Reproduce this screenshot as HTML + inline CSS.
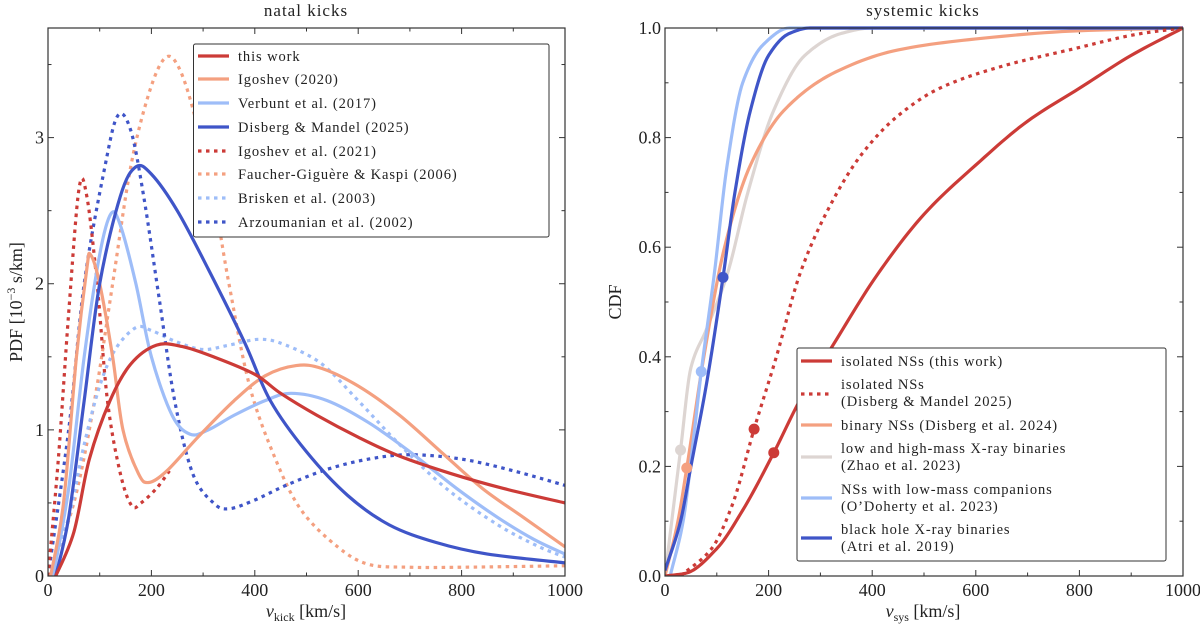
<!DOCTYPE html>
<html><head><meta charset="utf-8"><style>
body{margin:0;background:#fff;}
svg text{font-family:"Liberation Serif","DejaVu Serif",serif;fill:#222;}
</style></head><body>
<svg id="chart" width="1200" height="628" viewBox="0 0 1200 628" xmlns="http://www.w3.org/2000/svg"></svg>
<script>
// ---------- data: left panel (PDF, 1e-3 s/km) ----------
const thisWorkX=[15,50,80,120,160,210,260,320,400,450,520,600,680,780,880,1000];
const thisWorkY=[0,0.3,0.8,1.2,1.45,1.58,1.57,1.5,1.38,1.25,1.1,0.95,0.82,0.7,0.6,0.5];
const igo20X=[5,30,55,75,82,100,125,145,175,195,230,290,360,420,480,530,600,680,760,840,920,1000];
const igo20Y=[0,0.5,1.5,2.1,2.2,2.0,1.5,1.0,0.7,0.64,0.72,0.95,1.2,1.37,1.44,1.42,1.3,1.1,0.85,0.6,0.4,0.2];
const verbX=[10,40,70,100,122,140,170,200,240,275,310,360,420,470,540,620,700,790,870,940,1000];
const verbY=[0,0.6,1.5,2.2,2.48,2.4,2.0,1.5,1.1,0.97,1.0,1.1,1.2,1.25,1.2,1.05,0.85,0.6,0.4,0.25,0.15];
const dm25X=[15,40,70,100,140,170,200,250,310,380,430,500,580,660,750,850,1000];
const dm25Y=[0,0.4,1.2,2.0,2.6,2.8,2.75,2.5,2.1,1.6,1.2,0.85,0.55,0.35,0.23,0.15,0.09];
const igo21X=[0,20,40,60,75,95,115,140,162,180,210,235];
const igo21Y=[0,0.8,1.8,2.65,2.6,2.0,1.2,0.7,0.48,0.5,0.6,0.72];
const fgkX=[0,50,90,125,160,195,225,250,280,320,350,390,440,490,560,620,700,800,1000];
const fgkY=[0,0.5,1.2,2.0,2.8,3.3,3.54,3.5,3.2,2.6,2.0,1.3,0.8,0.45,0.2,0.08,0.06,0.06,0.07];
const brisX=[0,40,70,100,130,170,200,250,300,350,410,460,530,600,680,770,870,950,1000];
const brisY=[0,0.4,0.9,1.3,1.55,1.7,1.68,1.6,1.55,1.58,1.62,1.58,1.45,1.2,0.9,0.6,0.35,0.2,0.13];
const arzX=[0,40,70,110,135,160,185,215,245,280,320,350,400,460,540,620,700,800,900,1000];
const arzY=[0,1.0,2.0,2.8,3.15,3.05,2.6,1.9,1.2,0.7,0.5,0.46,0.52,0.62,0.73,0.8,0.83,0.8,0.72,0.62];
// ---------- data: right panel (CDF) ----------
const isoX=[0,40,100,150,210,260,330,410,500,600,700,800,900,1000];
const isoY=[0,0.005,0.05,0.12,0.225,0.32,0.43,0.55,0.66,0.75,0.83,0.89,0.95,1.0];
const isoDX=[30,90,130,172,215,260,310,380,450,530,650,780,920,1000];
const isoDY=[0,0.05,0.13,0.268,0.4,0.55,0.66,0.77,0.84,0.89,0.93,0.96,0.99,1.0];
const binX=[0,25,42,75,115,165,230,330,450,600,800,1000];
const binY=[0,0.1,0.197,0.4,0.6,0.75,0.85,0.92,0.96,0.98,0.995,1.0];
const xrbX=[0,30,50,80,120,160,210,270,340,400,1000];
const xrbY=[0,0.23,0.38,0.45,0.55,0.7,0.85,0.95,0.99,1.0,1.0];
const odoX=[10,35,55,70,95,120,150,190,240,1000];
const odoY=[0,0.1,0.25,0.373,0.55,0.75,0.9,0.97,1.0,1.0];
const atriX=[0,30,50,80,112,135,165,200,240,280,1000];
const atriY=[0.01,0.1,0.2,0.35,0.545,0.7,0.85,0.95,0.99,1.0,1.0];
const markerX=[210,172,42,30,70,112];
const markerY=[0.225,0.268,0.197,0.23,0.373,0.545];
const leftXTicks=[0,200,400,600,800,1000];
const leftYTicks=[0,1,2,3];
const rightXTicks=[0,200,400,600,800,1000];
const rightYTicks=[0,0.2,0.4,0.6,0.8,1.0];
const rightYLabels=["0.0","0.2","0.4","0.6","0.8","1.0"];

const RED="#cc3b37",SAL="#f4a080",LB="#9ebdf8",BL="#3f55c8",GR="#ddd5d2";
const svg=document.getElementById('chart');
const NS="http://www.w3.org/2000/svg";
function mk(tag,attrs,parent){const e=document.createElementNS(NS,tag);for(const k in attrs)e.setAttribute(k,attrs[k]);(parent||svg).appendChild(e);return e;}

const L={x0:48,x1:565,y0:576,y1:28,ymax:3.75};
const R={x0:665,x1:1183,y0:576,y1:28,ymax:1.0};
const lx=v=>L.x0+(L.x1-L.x0)*v/1000, ly=v=>L.y0-(L.y0-L.y1)*v/L.ymax;
const rx=v=>R.x0+(R.x1-R.x0)*v/1000, ry=v=>R.y0-(R.y0-R.y1)*v/R.ymax;

// Catmull-Rom (smooth peaks) for PDFs
function pathCR(xs,ys,fx,fy){
  const p=xs.map((x,i)=>[fx(x),fy(ys[i])]);
  let d=`M${p[0][0]},${p[0][1]}`;
  for(let i=0;i<p.length-1;i++){
    const a=p[Math.max(0,i-1)],b=p[i],c=p[i+1],e=p[Math.min(p.length-1,i+2)];
    const c1=[b[0]+(c[0]-a[0])/6,b[1]+(c[1]-a[1])/6],c2=[c[0]-(e[0]-b[0])/6,c[1]-(e[1]-b[1])/6];
    d+=` C${c1[0]},${c1[1]} ${c2[0]},${c2[1]} ${c[0]},${c[1]}`;
  }
  return d;
}
// monotone cubic for CDFs
function pathMono(xs,ys,fx,fy){
  const n=xs.length,d=[],m=new Array(n);
  for(let i=0;i<n-1;i++)d.push((ys[i+1]-ys[i])/(xs[i+1]-xs[i]));
  m[0]=d[0];m[n-1]=d[n-2];
  for(let i=1;i<n-1;i++){ if(d[i-1]*d[i]<=0)m[i]=0; else { const h0=xs[i]-xs[i-1],h1=xs[i+1]-xs[i];const w1=2*h1+h0,w2=h1+2*h0;m[i]=(w1+w2)/(w1/d[i-1]+w2/d[i]); } }
  let s=`M${fx(xs[0])},${fy(ys[0])}`;
  for(let i=0;i<n-1;i++){
    const h=xs[i+1]-xs[i];
    for(let k=1;k<=12;k++){
      const t=k/12,t2=t*t,t3=t2*t;
      const y=(2*t3-3*t2+1)*ys[i]+(t3-2*t2+t)*h*m[i]+(-2*t3+3*t2)*ys[i+1]+(t3-t2)*h*m[i+1];
      s+=` L${fx(xs[i]+t*h).toFixed(2)},${fy(y).toFixed(2)}`;
    }
  }
  return s;
}
function series(xs,ys,fx,fy,color,dotted,name,clip,mono){
  const el=mk('path',{d:(mono?pathMono:pathCR)(xs,ys,fx,fy),fill:'none',stroke:color,'stroke-width':3.2,'stroke-linejoin':'round','stroke-dasharray':dotted?'3.5,4.5':'none','clip-path':`url(#${clip})`});
  
  
}
const defs=mk('defs',{});
const c1=mk('clipPath',{id:'cl'},defs);mk('rect',{x:L.x0,y:L.y1,width:L.x1-L.x0,height:L.y0-L.y1},c1);
const c2=mk('clipPath',{id:'cr'},defs);mk('rect',{x:R.x0,y:R.y1-2,width:R.x1-R.x0,height:R.y0-R.y1+2},c2);

function axes(P,fx,fy,xt,yt,ylab,xminor,yminor,prefix){
  const g=mk('g',{});
  
  
  const tk=(x1,y1,x2,y2)=>mk('line',{x1,y1,x2,y2,stroke:'#333','stroke-width':1},g);
  for(let v=0;v<=1000;v+=xminor){const x=fx(v),maj=xt.includes(v);const l=maj?6:3.5;tk(x,P.y0,x,P.y0-l);tk(x,P.y1,x,P.y1+l);}
  for(let v=0;v<=P.ymax+1e-9;v+=yminor){const y=fy(v),maj=yt.some(t=>Math.abs(t-v)<1e-6);const l=maj?6:3.5;tk(P.x0,y,P.x0+l,y);tk(P.x1,y,P.x1-l,y);}
  xt.forEach(v=>{const t=mk('text',{x:fx(v),y:P.y0+20,'font-size':18,'text-anchor':'middle'},g);t.textContent=v;
    });
  yt.forEach((v,i)=>{const t=mk('text',{x:P.x0-4,y:fy(v)+6,'font-size':18,'text-anchor':'end'},g);t.textContent=ylab?ylab[i]:v;
    });
}
function frame(P,name){const r=mk('rect',{x:P.x0,y:P.y1,width:P.x1-P.x0,height:P.y0-P.y1,fill:'none',stroke:'#333','stroke-width':1.2});
  }

axes(L,lx,ly,leftXTicks,leftYTicks,null,100,0.5,'left');
axes(R,rx,ry,rightXTicks,rightYTicks,rightYLabels,100,0.1,'right');

series(fgkX,fgkY,lx,ly,SAL,true,'faucher-giguere-kaspi-2006-line','cl');
series(brisX,brisY,lx,ly,LB,true,'brisken-2003-line','cl');
series(arzX,arzY,lx,ly,BL,true,'arzoumanian-2002-line','cl');
series(igo21X,igo21Y,lx,ly,RED,true,'igoshev-2021-line','cl');
series(verbX,verbY,lx,ly,LB,false,'verbunt-2017-line','cl');
series(igo20X,igo20Y,lx,ly,SAL,false,'igoshev-2020-line','cl');
series(dm25X,dm25Y,lx,ly,BL,false,'disberg-mandel-2025-line','cl');
series(thisWorkX,thisWorkY,lx,ly,RED,false,'this-work-line','cl');
series(xrbX,xrbY,rx,ry,GR,false,'xray-binaries-cdf','cr',1);
series(binX,binY,rx,ry,SAL,false,'binary-ns-cdf','cr',1);
series(odoX,odoY,rx,ry,LB,false,'low-mass-companions-cdf','cr',1);
series(atriX,atriY,rx,ry,BL,false,'bh-xray-binaries-cdf','cr',1);
series(isoDX,isoDY,rx,ry,RED,true,'isolated-ns-dm25-cdf','cr',1);
series(isoX,isoY,rx,ry,RED,false,'isolated-ns-cdf','cr',1);
const mcol=[RED,RED,SAL,GR,LB,BL];
markerX.forEach((x,i)=>{const c=mk('circle',{cx:rx(x),cy:ry(markerY[i]),r:5.5,fill:mcol[i]});
  });

frame(L,'left-plot-frame');frame(R,'right-plot-frame');

function txt(x,y,s,size,name,anchor,rot){const t=mk('text',{x,y,'font-size':size,'text-anchor':anchor||'start'});
  if(rot)t.setAttribute('transform',`rotate(-90 ${x} ${y})`);t.textContent=s;
  return t;}
txt(306,16,'natal kicks',17,'left-title','middle').setAttribute('letter-spacing','1');
txt(923,16,'systemic kicks',17,'right-title','middle').setAttribute('letter-spacing','1');
const xl=txt(306,617,'',18,'left-x-axis-title','middle');xl.innerHTML='<tspan font-style="italic">v</tspan><tspan font-size="12" dy="4">kick</tspan><tspan dy="-4"> [km/s]</tspan>';
const xr=txt(923,617,'',18,'right-x-axis-title','middle');xr.innerHTML='<tspan font-style="italic">v</tspan><tspan font-size="12" dy="4">sys</tspan><tspan dy="-4"> [km/s]</tspan>';
const yl=txt(22,302,'',18,'left-y-axis-title','middle',true);yl.innerHTML='PDF [10<tspan font-size="12" dy="-7">−3</tspan><tspan dy="7"> s/km]</tspan>';
txt(621,302,'CDF',18,'right-y-axis-title','middle',true);

function legend(box,items,name){
  const g=mk('g',{});
  mk('rect',{x:box[0],y:box[1],width:box[2],height:box[3],fill:'#fff',stroke:'#333','stroke-width':1,rx:2},g);
  items.forEach(it=>{
    const ln=mk('line',{x1:box[4],x2:box[4]+31,y1:it.ly,y2:it.ly,stroke:it.c,'stroke-width':3.2,'stroke-dasharray':it.d?'3.5,4.5':'none'},g);
    
    it.t.forEach((s,j)=>{const t=mk('text',{x:box[4]+40,y:it.ty[j]+5,'font-size':14.5,'letter-spacing':'0.9'},g);t.textContent=s;
      });
  });
}
const lrows=[56,79,103,127,151,174,198,222];
legend([193.5,44,355.5,193,198],[
 {c:RED,t:['this work']},{c:SAL,t:['Igoshev (2020)']},{c:LB,t:['Verbunt et al. (2017)']},{c:BL,t:['Disberg & Mandel (2025)']},
 {c:RED,d:1,t:['Igoshev et al. (2021)']},{c:SAL,d:1,t:['Faucher-Giguère & Kaspi (2006)']},{c:LB,d:1,t:['Brisken et al. (2003)']},{c:BL,d:1,t:['Arzoumanian et al. (2002)']}
].map((it,i)=>Object.assign(it,{ly:lrows[i],ty:[lrows[i]]})),'left-legend');
legend([797,348,369,213,801],[
 {c:RED,ly:361,ty:[361],t:['isolated NSs (this work)']},
 {c:RED,d:1,ly:394,ty:[384,401],t:['isolated NSs','(Disberg & Mandel  2025)']},
 {c:SAL,ly:425,ty:[425],t:['binary NSs (Disberg et al. 2024)']},
 {c:GR,ly:457,ty:[448,465],t:['low and high-mass X-ray binaries','(Zhao et al. 2023)']},
 {c:LB,ly:498,ty:[489,506],t:['NSs with low-mass companions','(O’Doherty et al. 2023)']},
 {c:BL,ly:538,ty:[529,546],t:['black hole X-ray binaries','(Atri et al. 2019)']}
],'right-legend');
</script>
</body></html>
